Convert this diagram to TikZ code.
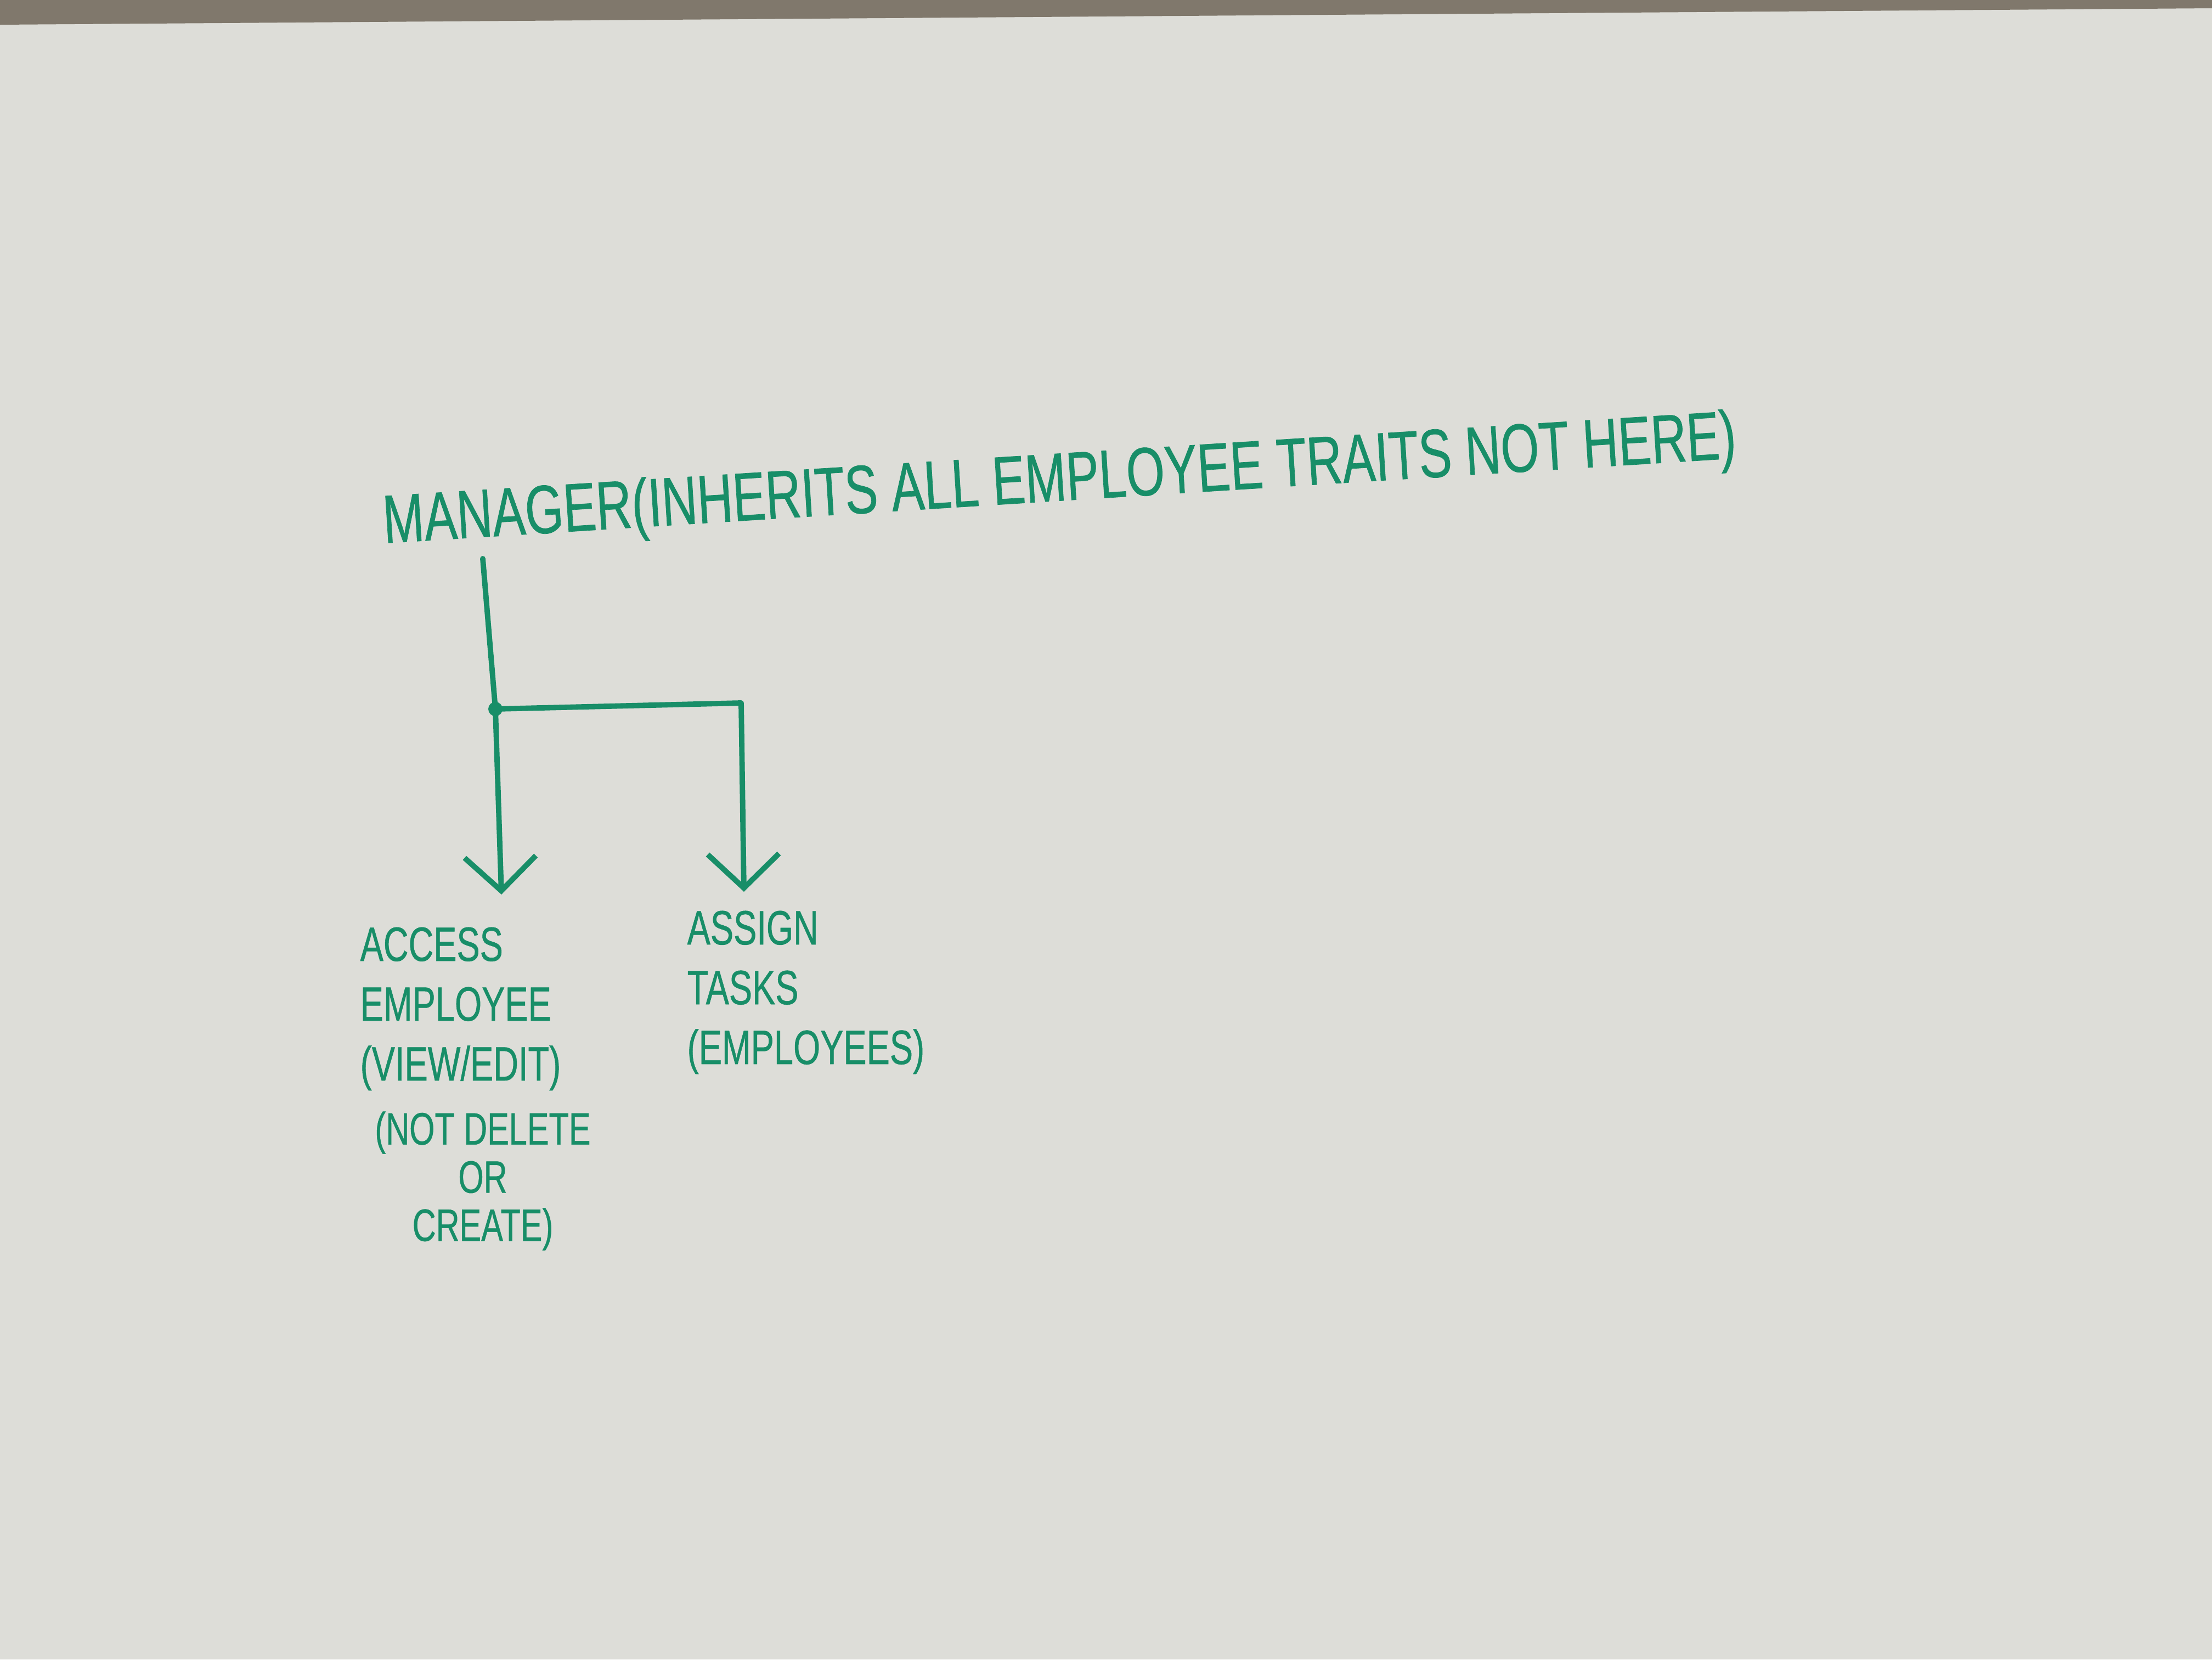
\documentclass[tikz,border=0pt]{standalone}
\usepackage{fontspec}
\setmainfont{Liberation Sans}[FakeStretch=0.72, FakeBold=0.6]
\usetikzlibrary{arrows.meta,positioning}
\definecolor{markergreen}{RGB}{24,142,104}
\definecolor{boardgrey}{RGB}{221,221,216}
\definecolor{framegrey}{RGB}{128,120,108}

\begin{document}
\begin{tikzpicture}[
    ink/.style={draw=markergreen, line width=2.8pt, line cap=round, line join=round},
    inkarrow/.style={ink, -{Straight Barb[length=0.62cm, width=1.3cm, line width=2.8pt]}},
    boardtext/.style={text=markergreen, inner sep=0pt},
    titletext/.style={boardtext, font=\fontsize{35.5}{40}\selectfont},
    labeltext/.style={boardtext, font=\fontsize{25}{31}\selectfont}
]
    % Whiteboard
    \useasboundingbox (0,0) rectangle (40.32,-30.24);
    \fill[boardgrey] (0,0) rectangle (40.32,-30.24);
    \fill[framegrey] (0,0) -- (40.32,0) -- (40.32,-0.15) -- (0,-0.45) -- cycle;

    % Heading, written slightly uphill
    \node[titletext, anchor=base west, rotate=3.6] (mgr) at (7.0,-9.9)
        {MANAGER(INHERITS ALL EMPLOYEE TRAITS NOT HERE)};

    % Branch points
    \coordinate (stem) at (8.80,-10.18);
    \coordinate (split) at (9.03,-12.92);
    \coordinate (corner) at (13.51,-12.81);
    \coordinate (tipA) at (9.14,-16.30);
    \coordinate (tipB) at (13.56,-16.25);

    % Labels under the arrows
    \node[labeltext, anchor=north west, align=left] (access) at (6.56,-16.89)
        {ACCESS\\EMPLOYEE\\(VIEW/EDIT)};
    \node[labeltext, anchor=north, align=center, font=\fontsize{23.5}{25}\selectfont] (notdel) at (8.80,-20.25)
        {(NOT DELETE\\OR\\CREATE)};
    \node[labeltext, anchor=north west, align=left] (assign) at (12.52,-16.59)
        {ASSIGN\\TASKS\\(EMPLOYEES)};

    % Connectors
    \draw[ink] (stem) -- (split);
    \draw[inkarrow] (split) -- (tipA);
    \draw[inkarrow] (split) -- (corner) -- (tipB);
    \fill[markergreen] (split) circle (0.13);

\end{tikzpicture}
\end{document}
